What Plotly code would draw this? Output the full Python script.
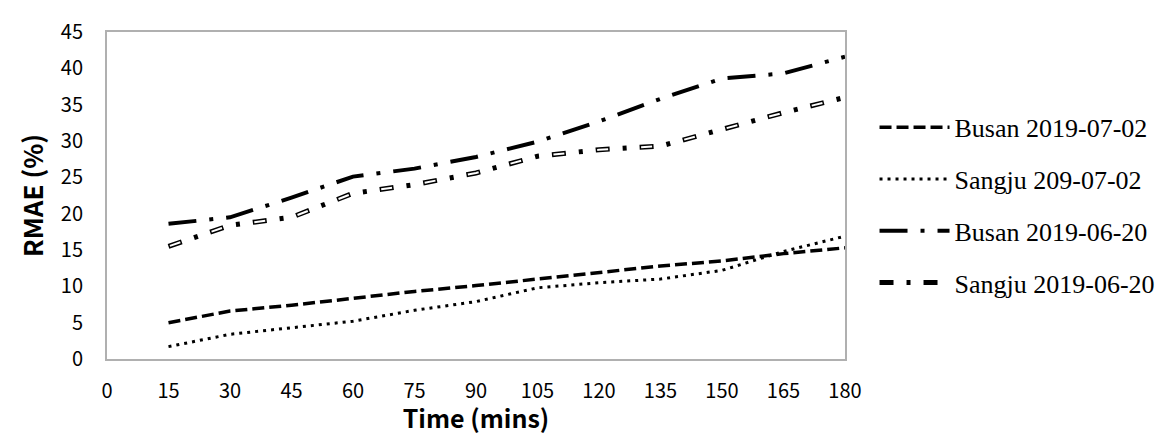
import plotly.graph_objects as go

time_mins = [15, 30, 45, 60, 75, 90, 105, 120, 135, 150, 165, 180]
x_tick_vals = [0, 15, 30, 45, 60, 75, 90, 105, 120, 135, 150, 165, 180]
y_tick_vals = [0, 5, 10, 15, 20, 25, 30, 35, 40, 45]

busan_0702 = [5.0, 6.6, 7.4, 8.4, 9.3, 10.1, 11.0, 11.9, 12.8, 13.5, 14.5, 15.3]
sangju_0702 = [1.7, 3.4, 4.3, 5.2, 6.7, 7.9, 9.8, 10.5, 11.0, 12.2, 14.8, 16.9]
busan_0620 = [18.6, 19.5, 22.2, 25.1, 26.2, 27.8, 29.9, 32.7, 35.8, 38.6, 39.3, 41.6]
sangju_0620 = [15.5, 18.4, 19.5, 22.8, 24.0, 25.6, 27.9, 28.8, 29.3, 31.6, 33.9, 36.0]

names = ["Busan 2019-07-02", "Sangju 209-07-02", "Busan 2019-06-20", "Sangju 2019-06-20"]

fig = go.Figure()
fig.add_trace(go.Scatter(x=time_mins, y=busan_0702, mode="lines", name=names[0],
                         legendgroup="a",
                         line=dict(color="black", width=3.5, dash="12px,5px")))
fig.add_trace(go.Scatter(x=time_mins, y=sangju_0702, mode="lines", name=names[1],
                         legendgroup="b",
                         line=dict(color="black", width=3, dash="3px,5px")))
fig.add_trace(go.Scatter(x=time_mins, y=busan_0620, mode="lines", name=names[2],
                         legendgroup="c",
                         line=dict(color="black", width=4, dash="28px,13px,4px,13px")))
fig.add_trace(go.Scatter(x=time_mins, y=sangju_0620, mode="lines", name=names[3],
                         legendgroup="d",
                         line=dict(color="black", width=5, dash="14px,13px,4px,13px")))
fig.add_trace(go.Scatter(x=time_mins, y=sangju_0620, mode="lines", name=names[3],
                         legendgroup="d", showlegend=False, hoverinfo="skip",
                         line=dict(color="white", width=2, dash="0px,1.5px,11px,31.5px")))

axis_font = dict(family="Noto Sans CJK KR, Open Sans, sans-serif", size=20, color="black")
x_title_font = dict(family="Noto Sans CJK KR, Open Sans, sans-serif", size=25, color="black")
y_title_font = dict(family="Noto Sans CJK KR, Open Sans, sans-serif", size=26, color="black")

fig.update_layout(
    width=1167, height=427,
    margin=dict(l=99, r=330, t=24, b=76),
    paper_bgcolor="white", plot_bgcolor="white",
    showlegend=True,
    legend=dict(
        x=1.04, xanchor="left", y=0.47, yanchor="middle",
        font=dict(family="Liberation Serif, Times New Roman, serif", size=26, color="black"),
        itemwidth=70, tracegroupgap=15, bgcolor="rgba(0,0,0,0)",
    ),
    xaxis=dict(
        range=[0, 180], tickvals=x_tick_vals, ticktext=[str(v) for v in x_tick_vals],
        showgrid=False, zeroline=False, showline=True, mirror=True,
        linecolor="#b0b0b0", linewidth=2, ticks="", tickfont=axis_font,
        ticklabelstandoff=13, automargin=False,
        title=dict(text="<b>Time (mins)</b>", font=x_title_font, standoff=0),
    ),
    yaxis=dict(
        range=[0, 45], tickvals=y_tick_vals, ticktext=[str(v) for v in y_tick_vals],
        showgrid=False, zeroline=False, showline=True, mirror=True,
        linecolor="#b0b0b0", linewidth=2, ticks="", tickfont=axis_font,
        ticklabelstandoff=18, automargin=False,
        title=dict(text="<b>RMAE (%)</b>", font=y_title_font, standoff=10),
    ),
)

fig.write_html("out.html")
